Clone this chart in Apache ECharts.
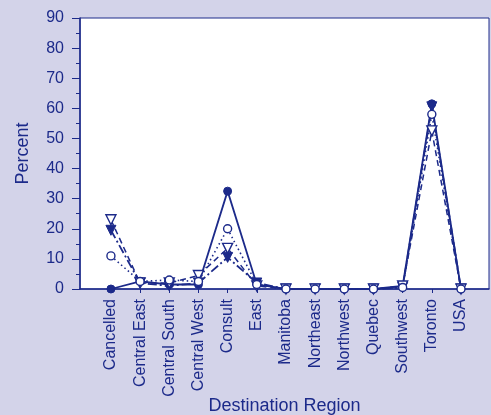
<!DOCTYPE html>
<html>
<head>
<meta charset="utf-8">
<script src="https://cdn.jsdelivr.net/npm/echarts@6/dist/echarts.min.js"></script>
<style>
html,body{margin:0;padding:0;background:#d3d3e9;}
#chart{width:491px;height:415px;}
</style>
</head>
<body>
<div id="chart"></div>
<script>
const categories = ['Cancelled','Central East','Central South','Central West','Consult','East','Manitoba','Northeast','Northwest','Quebec','Southwest','Toronto','USA'];
const solidFilledCircle = [0, 2.5, 1.5, 1.5, 32.5, 1.5, 0, 0, 0, 0, 1, 61.5, 0];
const dottedOpenCircle = [11, 2.5, 3, 2.5, 20, 1.5, 0, 0, 0, 0, 0.5, 58, 0];
const dashDotFilledTriangle = [19.5, 2, 1, 2, 10.5, 2, 0, 0, 0, 0, 0.5, 60.5, 0];
const dashedOpenTriangle = [23, 2, 2, 4.5, 13.5, 1, 0, 0, 0, 0, 1, 52.5, 0];
const yTicks = [0,10,20,30,40,50,60,70,80,90];

const C = '#1c2a8a';
const idx = categories.map((_, i) => i);
const pts = arr => arr.map((v, i) => [i, v]);
const font = 'Liberation Sans, Arial, sans-serif';

const chart = echarts.init(document.getElementById('chart'), null, {renderer: 'canvas'});
chart.setOption({
  backgroundColor: '#d3d3e9',
  animation: false,
  grid: {left: 80, right: 2, top: 18, bottom: 126, outerBoundsMode: 'none', containLabel: false,
    show: true, backgroundColor: '#ffffff', borderColor: C, borderWidth: 1},
  xAxis: {
    type: 'value', min: -1.06, max: 12.96,
    name: 'Destination Region', nameLocation: 'middle', nameGap: 108, nameMoveOverlap: false,
    nameTextStyle: {color: C, fontSize: 18, fontFamily: font},
    axisLine: {show: true, onZero: false, lineStyle: {color: C, width: 1.5}},
    axisTick: {show: true, customValues: idx, length: 4, lineStyle: {color: C}},
    axisLabel: {customValues: idx, rotate: 90, margin: 10, color: C, fontSize: 16, fontFamily: font,
      formatter: v => categories[Math.round(v)]},
    splitLine: {show: false}
  },
  yAxis: {
    type: 'value', min: 0, max: 90, interval: 10,
    name: 'Percent', nameLocation: 'middle', nameGap: 48, nameMoveOverlap: false,
    nameTextStyle: {color: C, fontSize: 18, fontFamily: font},
    axisLine: {show: true, onZero: false, lineStyle: {color: C, width: 1.5}},
    axisTick: {show: true, length: 8, lineStyle: {color: C}},
    minorTick: {show: true, splitNumber: 2, length: 4, lineStyle: {color: C}},
    axisLabel: {color: C, fontSize: 16, fontFamily: font, margin: 16,
      formatter: v => yTicks.includes(v) ? String(v) : ''},
    splitLine: {show: false}
  },
  series: [
    {type: 'line', data: pts(solidFilledCircle), symbol: 'circle', symbolSize: 8,
      lineStyle: {color: C, width: 1.8, type: 'solid'}, itemStyle: {color: C, borderColor: C}},
    {type: 'line', data: pts(dashDotFilledTriangle), symbol: 'triangle', symbolRotate: 180, symbolSize: 10,
      lineStyle: {color: C, width: 1.8, type: [9, 3, 2, 3]}, itemStyle: {color: C, borderColor: C}},
    {type: 'line', data: pts(dashedOpenTriangle), symbol: 'triangle', symbolRotate: 180, symbolSize: 10,
      lineStyle: {color: C, width: 1.5, type: [6, 4]}, itemStyle: {color: '#ffffff', borderColor: C, borderWidth: 1.4}},
    {type: 'line', data: pts(dottedOpenCircle), symbol: 'circle', symbolSize: 8,
      lineStyle: {color: C, width: 1.6, type: [1.5, 3]}, itemStyle: {color: '#ffffff', borderColor: C, borderWidth: 1.4}}
  ]
});
</script>
</body>
</html>
